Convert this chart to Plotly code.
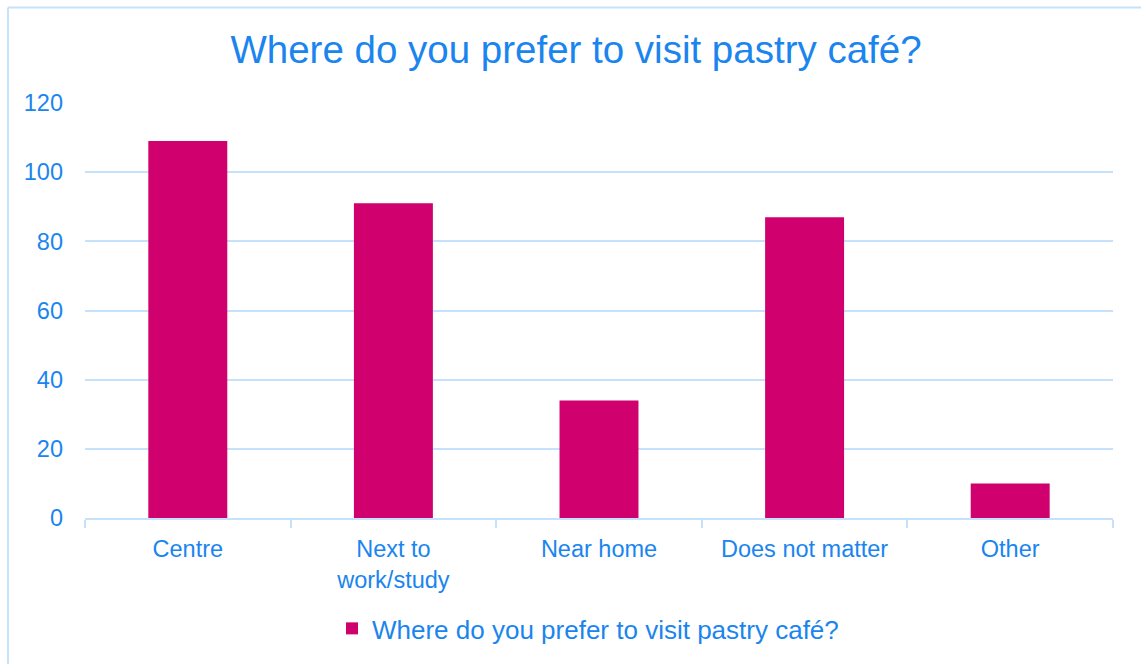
import plotly.graph_objects as go

categories = ["Centre", "Next to<br>work/study", "Near home", "Does not matter", "Other"]
counts = [109, 91, 34, 87, 10]
series_name = "Where do you prefer to visit pastry café?"
y_ticks = [0, 20, 40, 60, 80, 100, 120]

TEXT = "#1a85ee"
GRID = "#c6e1fb"
BAR = "#d0006f"
FONT = "Liberation Sans"

W, H = 1141, 664
L, R, T, B = 85, 28, 103, 144
pw, ph = W - L - R, H - T - B

def px_x(p):
    return (p - L) / pw

def px_y(p):
    return (H - B - p) / ph

fig = go.Figure(
    go.Bar(
        x=categories,
        y=counts,
        name=series_name,
        marker=dict(color=BAR, line=dict(width=0)),
        showlegend=True,
    )
)

fig.update_layout(
    width=W,
    height=H,
    margin=dict(l=L, r=R, t=T, b=B),
    paper_bgcolor="white",
    plot_bgcolor="white",
    font=dict(family=FONT, color=TEXT),
    bargap=0.616,
    title=dict(
        text=series_name,
        font=dict(size=38.5, color=TEXT, family=FONT),
        x=576 / W,
        xanchor="center",
        y=1 - 50 / H,
        yanchor="middle",
    ),
    showlegend=True,
    legend=dict(
        orientation="h",
        x=px_x(588),
        xanchor="center",
        y=px_y(631),
        yanchor="middle",
        font=dict(size=26, color=TEXT),
        itemwidth=30,
    ),
    xaxis=dict(
        type="category",
        showgrid=False,
        showline=True,
        linecolor=GRID,
        linewidth=2,
        ticks="outside",
        tickson="boundaries",
        ticklen=8,
        tickcolor=GRID,
        tickwidth=2,
        tickfont=dict(size=23.5, color=TEXT),
        ticklabelstandoff=9,
    ),
    yaxis=dict(
        range=[0, 120],
        tickvals=y_ticks,
        showgrid=True,
        gridcolor=GRID,
        gridwidth=2,
        zeroline=False,
        showline=False,
        tickfont=dict(size=23.5, color=TEXT),
        ticklabelstandoff=21,
    ),
    shapes=[
        dict(type="line", xref="paper", yref="paper",
             x0=px_x(8), x1=px_x(W + 5), y0=px_y(7), y1=px_y(7),
             line=dict(color=GRID, width=2)),
        dict(type="line", xref="paper", yref="paper",
             x0=px_x(8), x1=px_x(8), y0=px_y(7), y1=px_y(H + 5),
             line=dict(color=GRID, width=2)),
    ],
)

fig.write_html("out.html")
